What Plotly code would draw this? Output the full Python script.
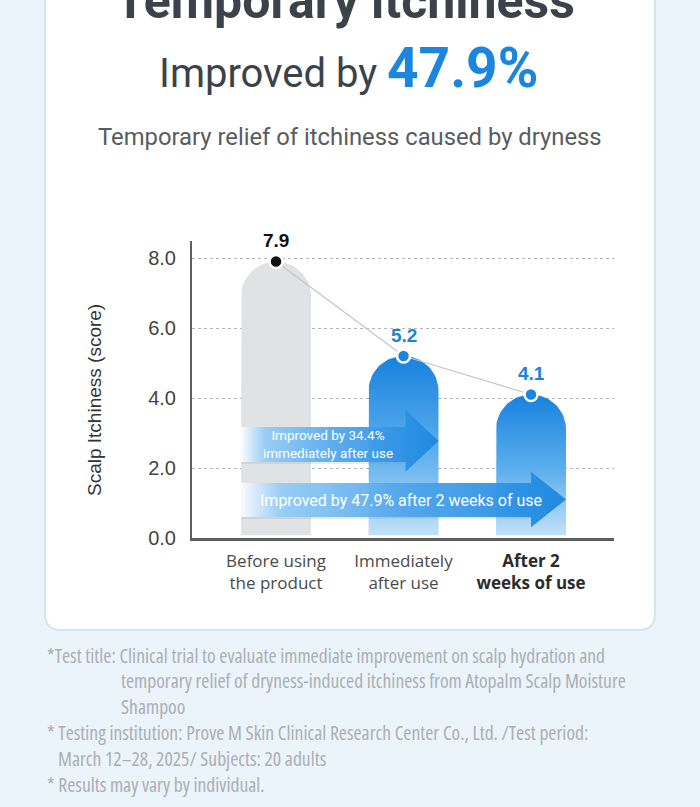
import numpy as np
import plotly.graph_objects as go

# ---------------- data ----------------
categories = ["Before using<br>the product", "Immediately<br>after use",
              "<b><span style='color:#2b2b2b'>After 2<br>weeks of use</span></b>"]
scores = [7.9, 5.2, 4.1]
score_labels = ["7.9", "5.2", "4.1"]
arrow_texts = ["Improved by 34.4%<br>immediately after use",
               "Improved by 47.9% after 2 weeks of use"]
arrow_targets = [1, 2]          # arrow ends at the right edge of this bar
y_ticks = [0, 2, 4, 6, 8]
y_tick_labels = ["0.0", "2.0", "4.0", "6.0", "8.0"]
title_top = "Temporary itchiness"
headline_pre = "Improved by "
headline_num = "47.9%"
subtitle = "Temporary relief of itchiness caused by dryness"
y_title = "Scalp Itchiness (score)"
footnotes = [
    ("*Test title: Clinical trial to evaluate immediate improvement on scalp hydration and", 45),
    ("temporary relief of dryness-induced itchiness from Atopalm Scalp Moisture", 119),
    ("Shampoo", 119),
    ("* Testing institution: Prove M Skin Clinical Research Center Co., Ltd. /Test period:", 45),
    ("March 12\u201328, 2025/ Subjects: 20 adults", 56),
    ("* Results may vary by individual.", 45),
]

# ---------------- layout geometry ----------------
W, H = 700, 807
L, R, T, B = 192, 86, 241, 269
PW, PH = W - L - R, H - T - B
x_range = [-0.659, 2.651]
y_range = [0, 8.486]
ppx = PW / (x_range[1] - x_range[0])
ppy = PH / (y_range[1] - y_range[0])
BAR_HALF_PX = 35
hw = BAR_HALF_PX / ppx
ry = BAR_HALF_PX / ppy
BAR_BASE = 0.08

BLUE = "#1a86df"
HEAD = "Roboto, Liberation Sans, sans-serif"
SANS = "Liberation Sans, Arial, sans-serif"
FOOT = "Open Sans, Noto Sans, sans-serif"


def px(xp):
    return (xp - L) / PW


def py(yp):
    return (H - B - yp) / PH


fig = go.Figure()

# ---------------- bars (rounded tops, gradients) ----------------
x_idx = list(range(len(scores)))
for i, v in zip(x_idx, scores):
    t = np.linspace(np.pi, 0, 41)
    xs = [i - hw, i - hw] + list(i + hw * np.cos(t)) + [i + hw, i + hw]
    ys = [BAR_BASE, v - ry] + list(v - ry + ry * np.sin(t)) + [v - ry, BAR_BASE]
    if i == 0:
        fig.add_trace(go.Scatter(x=xs, y=ys, mode="lines", fill="toself",
                                 fillcolor="#e1e2e4", line=dict(width=0),
                                 hoverinfo="skip", showlegend=False))
    else:
        fig.add_trace(go.Scatter(
            x=xs, y=ys, mode="lines", fill="toself", line=dict(width=0),
            fillgradient=dict(type="vertical", start=BAR_BASE, stop=v,
                              colorscale=[[0, "#c2e1f8"], [0.45, "#5fb0ee"], [1, "#1782de"]]),
            hoverinfo="skip", showlegend=False))

# ---------------- arrows ----------------
arrow_geom = [  # (body_top, body_bot, head_top, head_bot, head_len_px) in y-units
    (3.17, 2.17, 3.66, 1.89, 33),
    (1.57, 0.60, 1.89, 0.31, 35),
]
x_left = 0 - hw
for (bt, bb, ht, hb, hl), tgt in zip(arrow_geom, arrow_targets):
    tip = tgt + hw
    hbase = tip - hl / ppx
    mid = (ht + hb) / 2
    xs = [x_left, hbase, hbase, tip, hbase, hbase, x_left, x_left]
    ys = [bt, bt, ht, mid, hb, bb, bb, bt]
    fig.add_trace(go.Scatter(x=[x_left, hbase], y=[bb - 0.03, bb - 0.03], mode="lines",
                             line=dict(color="rgba(140,140,140,0.22)", width=1.5),
                             hoverinfo="skip", showlegend=False))
    fig.add_trace(go.Scatter(
        x=xs, y=ys, mode="lines", fill="toself", line=dict(width=0),
        fillgradient=dict(type="horizontal", start=x_left, stop=tip,
                          colorscale=[[0, "rgba(250,252,255,0.95)"], [0.12, "rgba(150,205,245,0.95)"],
                                      [0.5, "rgba(80,165,235,0.95)"], [1, "rgba(28,136,224,0.97)"]]),
        hoverinfo="skip", showlegend=False))

# ---------------- connecting line + dots ----------------
fig.add_trace(go.Scatter(
    x=x_idx, y=scores, mode="lines+markers",
    line=dict(color="#c4c4c4", width=1.2),
    marker=dict(size=13, color=["#111111", BLUE, BLUE], line=dict(color="white", width=2.5)),
    hoverinfo="skip", showlegend=False))

annotations = []
for i, (v, lab) in enumerate(zip(scores, score_labels)):
    annotations.append(dict(x=i, y=v, xref="x", yref="y", text=f"<b>{lab}</b>", showarrow=False,
                            xanchor="center", yanchor="middle",
                            yshift=21, font=dict(family=SANS, size=19,
                                                 color="#111111" if i == 0 else "#1c84d6")))


def add_text(x, y, text, font, **kw):
    d = dict(x=px(x), y=py(y), xref="paper", yref="paper", text=text, showarrow=False,
             xanchor="center", yanchor="middle", font=font)
    d.update(kw)
    annotations.append(d)


# arrow texts
add_text(328, 444, arrow_texts[0], dict(family=HEAD, size=13.5, color="white"))
add_text(401, 500, arrow_texts[1], dict(family=HEAD, size=16, color="white"))

# titles
add_text(345, 1, f"<b>{title_top}</b>", dict(family=HEAD, size=50, color="#3b4249"))
add_text(348, 68, f"{headline_pre}<span style='font-size:55px;color:{BLUE}'><b>{headline_num}</b></span>",
         dict(family=HEAD, size=40, color="#3b4249"))
add_text(350, 137, subtitle, dict(family=HEAD, size=23.8, color="#575c61"))
add_text(94, 400, y_title, dict(family=SANS, size=19, color="#333333"), textangle=-90)

# footnotes
for k, (txt, xl) in enumerate(footnotes):
    add_text(xl, 655 + k * 25.8, f"<span style='font-stretch:condensed'>{txt}</span>",
             dict(family=FOOT, size=19.6, color="#aaafb4"), xanchor="left")

# card
cx0, cx1, ctop, cbot, rr = 45, 655, -30, 630, 16
card_path = (f"M {px(cx0)},{py(ctop)} L {px(cx0)},{py(cbot - rr)} "
             f"Q {px(cx0)},{py(cbot)} {px(cx0 + rr)},{py(cbot)} "
             f"L {px(cx1 - rr)},{py(cbot)} Q {px(cx1)},{py(cbot)} {px(cx1)},{py(cbot - rr)} "
             f"L {px(cx1)},{py(ctop)} Z")

fig.update_layout(
    width=W, height=H, margin=dict(l=L, r=R, t=T, b=B),
    paper_bgcolor="#ecf4fb", plot_bgcolor="rgba(0,0,0,0)",
    showlegend=False, annotations=annotations,
    shapes=[dict(type="path", path=card_path, xref="paper", yref="paper", layer="below",
                 fillcolor="white", line=dict(color="#d2e6ef", width=2))],
    xaxis=dict(range=x_range, tickmode="array", tickvals=x_idx, ticktext=categories,
               showgrid=False, zeroline=False, showline=True, linecolor="#5e5e5e", linewidth=2.5,
               ticks="", ticklabelstandoff=6,
               tickfont=dict(family="Open Sans, Noto Sans, sans-serif", size=17, color="#4a4a4a"),
               fixedrange=True),
    yaxis=dict(range=y_range, tickmode="array", tickvals=y_ticks, ticktext=y_tick_labels,
               showgrid=True, gridcolor="#b5b5b5", griddash="dot", gridwidth=1,
               zeroline=False, showline=True, linecolor="#5e5e5e", linewidth=2,
               ticks="", ticklabelstandoff=10,
               tickfont=dict(family=SANS, size=20, color="#444444"), fixedrange=True),
)

fig.write_html("out.html")
